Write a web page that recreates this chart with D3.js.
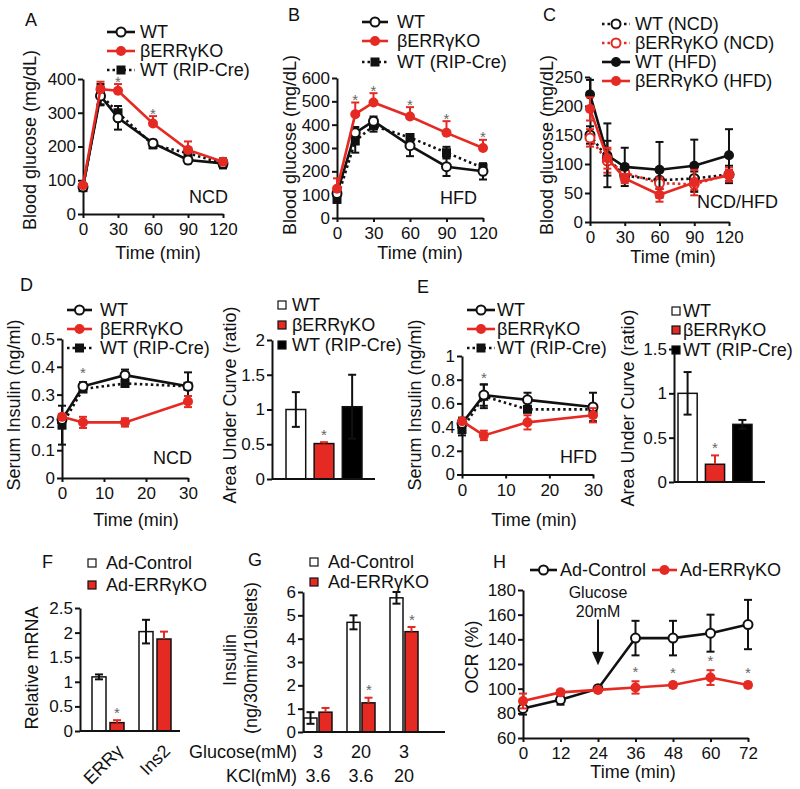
<!DOCTYPE html>
<html><head><meta charset="utf-8">
<script src="https://cdn.jsdelivr.net/npm/d3@7"></script>
<style>body{margin:0;background:#fff} svg{display:block}</style>
</head><body><svg id="c" width="800" height="789"></svg>
<script>
// ---------- DATA ----------
const timeGTT = [0, 15, 30, 60, 90, 120];
const gttTicks = [0, 30, 60, 90, 120];
// Panel A (NCD GTT)
const aWT = [80, 350, 285, 210, 160, 150];
const aWTErr = [8, 28, 35, 10, 10, 15];
const aCre = [78, 355, 300, 205, 180, 150];
const aCreErr = [8, 30, 20, 10, 12, 12];
const aKO = [85, 370, 365, 268, 190, 155];
const aKOErr = [5, 22, 20, 22, 25, 8];
const aStars = [30, 60];
// Panel B (HFD GTT)
const bWT = [105, 365, 415, 310, 220, 200];
const bWTErr = [10, 25, 20, 45, 40, 35];
const bCre = [80, 330, 395, 345, 280, 215];
const bCreErr = [15, 50, 25, 15, 25, 15];
const bKO = [125, 445, 495, 435, 365, 300];
const bKOErr = [45, 50, 40, 40, 50, 35];
const bStars = [15, 30, 60, 90, 120];
// Panel C (ITT)
const cWTncd = [150, 110, 80, 72, 75, 82];
const cWTncdErr = [15, 30, 10, 15, 12, 15];
const cKOncd = [145, 105, 85, 67, 65, 82];
const cKOncdErr = [15, 20, 8, 10, 10, 12];
const cWThfd = [220, 115, 95, 90, 97, 115];
const cWThfdErr = [25, 55, 33, 48, 45, 45];
const cKOhfd = [195, 110, 75, 47, 68, 80];
const cKOhfdErr = [20, 18, 8, 12, 22, 10];
// Panel D / E (serum insulin)
const timeIns = [0, 5, 15, 30];
const insTicks = [0, 10, 20, 30];
const dWT = [0.21, 0.33, 0.37, 0.33];
const dWTErr = [0.02, 0.015, 0.02, 0.05];
const dCre = [0.19, 0.32, 0.34, 0.33];
const dCreErr = [0.07, 0.01, 0.01, 0.01];
const dKO = [0.22, 0.20, 0.20, 0.275];
const dKOErr = [0.01, 0.02, 0.015, 0.02];
const dStars = [5];
const eWT = [0.43, 0.67, 0.63, 0.57];
const eWTErr = [0.05, 0.09, 0.06, 0.12];
const eCre = [0.38, 0.66, 0.55, 0.55];
const eCreErr = [0.05, 0.10, 0.02, 0.02];
const eKO = [0.45, 0.33, 0.44, 0.50];
const eKOErr = [0.02, 0.04, 0.06, 0.06];
const eStars = [5];
// AUC bars
const aucGroups = ["WT", "βERRγKO", "WT (RIP-Cre)"];
const dAUC = [1.0, 0.51, 1.04];
const dAUCErr = [0.25, 0.02, 0.46];
const eAUC = [1.0, 0.2, 0.65];
const eAUCErr = [0.24, 0.1, 0.05];
// Panel F
const genes = ["ERRγ", "Ins2"];
const fCtl = [1.1, 2.02];
const fCtlErr = [0.05, 0.24];
const fKO = [0.17, 1.87];
const fKOErr = [0.05, 0.15];
const fStars = ["ERRγ"];
// Panel G
const gGlucose = ["3", "20", "3"];
const gKCl = ["3.6", "3.6", "20"];
const gCtl = [0.6, 4.7, 5.75];
const gCtlErr = [0.25, 0.3, 0.25];
const gKO = [0.85, 1.25, 4.3];
const gKOErr = [0.18, 0.22, 0.2];
const gStars = [1, 2];
// Panel H
const timeOCR = [0, 12, 24, 36, 48, 60, 72];
const hCtl = [84, 91, 100, 141, 141, 145, 152];
const hCtlErr = [5, 4, 2, 14, 14, 15, 20];
const hKO = [90, 97, 99, 101, 103, 109, 103];
const hKOErr = [6, 2, 2, 5, 2, 6, 2];
const hStars = [36, 48, 60, 72];

// ---------- DRAWING ----------
const FONT = '"Liberation Sans", Arial, Helvetica, sans-serif';
const FS = 18;      // labels / legends
const TFS = 17;     // tick labels
const RED = "#e42a22";
const svg = d3.select("#c").attr("font-family", FONT);

function txt(x, y, s, opt = {}) {
  const t = svg.append("text").attr("x", x).attr("y", y).text(s)
    .attr("font-size", opt.size || FS).attr("fill", opt.fill || "#111")
    .attr("text-anchor", opt.anchor || "start")
    .attr("dominant-baseline", opt.baseline || "central");
  if (opt.rotate) t.attr("transform", `rotate(${opt.rotate},${x},${y})`);
  return t;
}
function star(x, y) { txt(x, y, "*", { size: 15, fill: "#666", anchor: "middle" }); }

function styleAxis(g) {
  g.attr("font-size", TFS).attr("font-family", FONT);
  g.selectAll("path,line").attr("stroke", "#111").attr("stroke-width", 2);
  g.selectAll("text").attr("fill", "#111");
}

function yAxis(y, x0, ticks, fmt) {
  const g = svg.append("g").attr("transform", `translate(${x0},0)`)
    .call(d3.axisLeft(y).tickValues(ticks).tickFormat(fmt || d3.format("")).tickSize(5).tickSizeOuter(0).tickPadding(2));
  styleAxis(g);
}
function xAxis(x, y0, ticks) {
  const g = svg.append("g").attr("transform", `translate(0,${y0})`)
    .call(d3.axisBottom(x).tickValues(ticks).tickSize(4).tickSizeOuter(0).tickPadding(5));
  styleAxis(g);
}
function baseLine(x0, x1, y0) {
  svg.append("line").attr("x1", x0).attr("x2", x1).attr("y1", y0).attr("y2", y0)
    .attr("stroke", "#111").attr("stroke-width", 2);
}

function errBar(x, y, v, e, color, dir = "both", cap = 8) {
  const top = dir === "down" ? y(v) : y(v + e);
  const bot = dir === "up" ? y(v) : y(v - e);
  svg.append("line").attr("x1", x).attr("x2", x).attr("y1", top).attr("y2", bot)
    .attr("stroke", color).attr("stroke-width", 2);
  if (dir !== "down") svg.append("line").attr("x1", x - cap / 2).attr("x2", x + cap / 2).attr("y1", top).attr("y2", top).attr("stroke", color).attr("stroke-width", 2);
  if (dir !== "up") svg.append("line").attr("x1", x - cap / 2).attr("x2", x + cap / 2).attr("y1", bot).attr("y2", bot).attr("stroke", color).attr("stroke-width", 2);
}

function marker(cx, cy, color, type) {
  if (type === "square") {
    svg.append("rect").attr("x", cx - 4.5).attr("y", cy - 4.5).attr("width", 9).attr("height", 9).attr("fill", color);
  } else if (type === "open") {
    svg.append("circle").attr("cx", cx).attr("cy", cy).attr("r", 4.5).attr("fill", "#fff").attr("stroke", color).attr("stroke-width", 2);
  } else {
    svg.append("circle").attr("cx", cx).attr("cy", cy).attr("r", 5).attr("fill", color);
  }
}

function drawSeries(x, y, xs, s) {
  const line = d3.line().x((d, i) => x(xs[i])).y(d => y(d));
  svg.append("path").datum(s.values).attr("d", line).attr("fill", "none")
    .attr("stroke", s.color).attr("stroke-width", 2.6)
    .attr("stroke-dasharray", s.dash ? "2.5,3" : null);
  s.values.forEach((v, i) => errBar(x(xs[i]), y, v, s.errs[i], s.color, s.dir || "both"));
  s.values.forEach((v, i) => marker(x(xs[i]), y(v), s.color, s.marker));
}

function legendLine(x0, x1, yc, s, label, tx) {
  svg.append("line").attr("x1", x0).attr("x2", x1).attr("y1", yc).attr("y2", yc)
    .attr("stroke", s.color).attr("stroke-width", 2.6).attr("stroke-dasharray", s.dash ? "2.5,3" : null);
  marker((x0 + x1) / 2, yc, s.color, s.marker);
  txt(tx, yc, label);
}
function legendBox(x0, yc, fill, label, tx) {
  svg.append("rect").attr("x", x0).attr("y", yc - 4).attr("width", 8).attr("height", 8)
    .attr("fill", fill).attr("stroke", "#111").attr("stroke-width", 1.2);
  txt(tx, yc, label);
}

function linePanel(cfg) {
  const x = d3.scaleLinear().domain(cfg.xDomain).range(cfg.xRange);
  const y = d3.scaleLinear().domain(cfg.yDomain).range(cfg.yRange);
  yAxis(y, cfg.xRange[0], cfg.yTicks, cfg.yFmt);
  xAxis(x, cfg.yRange[0], cfg.xTicks);
  cfg.series.forEach(s => drawSeries(x, y, cfg.xs, s));
  (cfg.stars || []).forEach(t => {
    const s = cfg.starSeries; const i = cfg.xs.indexOf(t);
    star(x(t), y(s.values[i] + s.errs[i]) - (cfg.starOff || 8));
  });
  return { x, y };
}

// ----- Panel A -----
const sA = [
  { values: aCre, errs: aCreErr, color: "#111", dash: true, marker: "square" },
  { values: aWT, errs: aWTErr, color: "#111", marker: "open" },
  { values: aKO, errs: aKOErr, color: RED, marker: "filled", dir: "up" }
];
linePanel({ xDomain: [0, 120], xRange: [83, 223], yDomain: [0, 400], yRange: [214, 79],
  yTicks: [0, 100, 200, 300, 400], xTicks: gttTicks, xs: timeGTT, series: sA,
  stars: aStars, starSeries: sA[2], starOff: 3 });
txt(25, 20, "A");
legendLine(107, 135, 32, sA[1], "WT", 140);
legendLine(107, 135, 51, sA[2], "βERRγKO", 140);
legendLine(107, 135, 70, sA[0], "WT (RIP-Cre)", 140);
txt(228, 197, "NCD", { anchor: "end" });
txt(30, 140, "Blood glucose (mg/dL)", { anchor: "middle", rotate: -90 });
txt(158, 253, "Time (min)", { anchor: "middle" });

// ----- Panel B -----
const sB = [
  { values: bCre, errs: bCreErr, color: "#111", dash: true, marker: "square" },
  { values: bWT, errs: bWTErr, color: "#111", marker: "open" },
  { values: bKO, errs: bKOErr, color: RED, marker: "filled", dir: "up" }
];
linePanel({ xDomain: [0, 120], xRange: [337, 483], yDomain: [0, 600], yRange: [218, 78],
  yTicks: [0, 100, 200, 300, 400, 500, 600], xTicks: gttTicks, xs: timeGTT, series: sB,
  stars: bStars, starSeries: sB[2], starOff: 3 });
txt(288, 15, "B");
legendLine(362, 388, 22, sB[1], "WT", 397);
legendLine(362, 388, 41, sB[2], "βERRγKO", 397);
legendLine(362, 388, 62, sB[0], "WT (RIP-Cre)", 397);
txt(477, 198, "HFD", { anchor: "end" });
txt(290, 145, "Blood glucose (mg/dL)", { anchor: "middle", rotate: -90 });
txt(420, 253, "Time (min)", { anchor: "middle" });

// ----- Panel C -----
const sC = [
  { values: cWTncd, errs: cWTncdErr, color: "#111", dash: true, marker: "open" },
  { values: cKOncd, errs: cKOncdErr, color: RED, dash: true, marker: "open" },
  { values: cWThfd, errs: cWThfdErr, color: "#111", marker: "filled" },
  { values: cKOhfd, errs: cKOhfdErr, color: RED, marker: "filled" }
];
linePanel({ xDomain: [0, 120], xRange: [590, 729], yDomain: [0, 250], yRange: [222, 77],
  yTicks: [0, 50, 100, 150, 200, 250], xTicks: gttTicks, xs: timeGTT, series: sC });
txt(543, 15, "C");
legendLine(602, 630, 24, sC[0], "WT (NCD)", 635);
legendLine(602, 630, 43, sC[1], "βERRγKO (NCD)", 635);
legendLine(602, 630, 62, sC[2], "WT (HFD)", 635);
legendLine(602, 630, 81, sC[3], "βERRγKO (HFD)", 635);
txt(778, 202, "NCD/HFD", { anchor: "end" });
txt(547, 145, "Blood glucose (mg/dL)", { anchor: "middle", rotate: -90 });
txt(673, 257, "Time (min)", { anchor: "middle" });

// ----- Panel D (line) -----
const sD = [
  { values: dCre, errs: dCreErr, color: "#111", dash: true, marker: "square" },
  { values: dWT, errs: dWTErr, color: "#111", marker: "open" },
  { values: dKO, errs: dKOErr, color: RED, marker: "filled" }
];
linePanel({ xDomain: [0, 30], xRange: [62, 188], yDomain: [0, 0.5], yRange: [478, 339],
  yTicks: [0, 0.1, 0.2, 0.3, 0.4, 0.5], xTicks: insTicks, xs: timeIns, series: sD,
  stars: dStars, starSeries: sD[1], starOff: 10 });
txt(20, 285, "D");
legendLine(67, 92, 310, sD[1], "WT", 100);
legendLine(67, 92, 329, sD[2], "βERRγKO", 100);
legendLine(67, 92, 348, sD[0], "WT (RIP-Cre)", 100);
txt(192, 458, "NCD", { anchor: "end" });
txt(14, 405, "Serum Insulin (ng/ml)", { anchor: "middle", rotate: -90 });
txt(136, 520, "Time (min)", { anchor: "middle" });

// ----- Panel E (line) -----
const sE = [
  { values: eCre, errs: eCreErr, color: "#111", dash: true, marker: "square" },
  { values: eWT, errs: eWTErr, color: "#111", marker: "open" },
  { values: eKO, errs: eKOErr, color: RED, marker: "filled" }
];
linePanel({ xDomain: [0, 30], xRange: [462, 593], yDomain: [0, 1], yRange: [474.5, 356],
  yTicks: [0, 0.2, 0.4, 0.6, 0.8, 1], xTicks: insTicks, xs: timeIns, series: sE,
  stars: eStars, starSeries: sE[1], starOff: 7 });
txt(417, 287, "E");
legendLine(467, 495, 310, sE[1], "WT", 497);
legendLine(467, 495, 329, sE[2], "βERRγKO", 497);
legendLine(467, 495, 348, sE[0], "WT (RIP-Cre)", 497);
txt(597, 457, "HFD", { anchor: "end" });
txt(415, 405, "Serum Insulin (ng/ml)", { anchor: "middle", rotate: -90 });
txt(534, 520, "Time (min)", { anchor: "middle" });

// ----- AUC bar panels -----
const aucFill = ["#fff", RED, "#000"];
function aucPanel(vals, errs, xr, band, yr, ymax, yTicks) {
  const y = d3.scaleLinear().domain([0, ymax]).range(yr);
  const x = d3.scaleBand().domain(aucGroups).range(band).paddingInner(0.3);
  yAxis(y, xr[0], yTicks);
  aucGroups.forEach((gname, i) => {
    svg.append("rect").attr("x", x(gname)).attr("y", y(vals[i])).attr("width", x.bandwidth())
      .attr("height", y(0) - y(vals[i])).attr("fill", aucFill[i]).attr("stroke", "#111").attr("stroke-width", 1.5);
    errBar(x(gname) + x.bandwidth() / 2, y, vals[i], errs[i], i === 1 ? RED : "#111", i === 1 ? "up" : "both");
  });
  baseLine(xr[0], xr[1], yr[0]);
  star(x(aucGroups[1]) + x.bandwidth() / 2, y(vals[1] + errs[1]) - 8);
}
aucPanel(dAUC, dAUCErr, [272, 375], [286, 362], [479, 340], 2, [0, 0.5, 1, 1.5, 2]);
legendBox(278, 305, "#fff", "WT", 292);
legendBox(278, 325, RED, "βERRγKO", 292);
legendBox(278, 345, "#000", "WT (RIP-Cre)", 292);
txt(230, 405, "Area Under Curve (ratio)", { anchor: "middle", rotate: -90 });

aucPanel(eAUC, eAUCErr, [674, 765], [678, 752], [482, 349], 1.5, [0, 0.5, 1, 1.5]);
legendBox(672, 311, "#fff", "WT", 683);
legendBox(672, 330, RED, "βERRγKO", 683);
legendBox(672, 350, "#000", "WT (RIP-Cre)", 683);
txt(628, 408, "Area Under Curve (ratio)", { anchor: "middle", rotate: -90 });

// ----- Panel F -----
(function () {
  const y = d3.scaleLinear().domain([0, 2.5]).range([731, 608]);
  const x = d3.scaleBand().domain(genes).range([84.5, 178.5]);
  yAxis(y, 80, [0, 0.5, 1, 1.5, 2, 2.5]);
  genes.forEach((gname, i) => {
    const c = x(gname) + x.bandwidth() / 2;
    svg.append("rect").attr("x", c - 16).attr("y", y(fCtl[i])).attr("width", 14).attr("height", y(0) - y(fCtl[i]))
      .attr("fill", "#fff").attr("stroke", "#111").attr("stroke-width", 1.5);
    svg.append("rect").attr("x", c + 2).attr("y", y(fKO[i])).attr("width", 14).attr("height", y(0) - y(fKO[i]))
      .attr("fill", RED).attr("stroke", "#111").attr("stroke-width", 1.5);
    errBar(c - 9, y, fCtl[i], fCtlErr[i], "#111");
    errBar(c + 9, y, fKO[i], fKOErr[i], RED, "up");
    if (fStars.includes(gname)) star(c + 9, y(fKO[i] + fKOErr[i]) - 8);
    txt(c + 12, 748, gname, { anchor: "end", rotate: -45 });
  });
  baseLine(80, 180, 731);
  txt(42, 562, "F");
  legendBox(88, 563, "#fff", "Ad-Control", 106);
  legendBox(88, 585, RED, "Ad-ERRγKO", 106);
  txt(32, 668, "Relative mRNA", { anchor: "middle", rotate: -90 });
})();

// ----- Panel G -----
(function () {
  const y = d3.scaleLinear().domain([0, 6]).range([732, 592]);
  const idx = gGlucose.map((d, i) => i);
  const x = d3.scaleBand().domain(idx).range([296.5, 425.5]);
  yAxis(y, 303, [0, 1, 2, 3, 4, 5, 6]);
  idx.forEach(i => {
    const c = x(i) + x.bandwidth() / 2;
    svg.append("rect").attr("x", c - 14).attr("y", y(gCtl[i])).attr("width", 13).attr("height", y(0) - y(gCtl[i]))
      .attr("fill", "#fff").attr("stroke", "#111").attr("stroke-width", 1.5);
    svg.append("rect").attr("x", c + 1).attr("y", y(gKO[i])).attr("width", 13).attr("height", y(0) - y(gKO[i]))
      .attr("fill", RED).attr("stroke", "#111").attr("stroke-width", 1.5);
    errBar(c - 7.5, y, gCtl[i], gCtlErr[i], "#111");
    errBar(c + 7.5, y, gKO[i], gKOErr[i], RED, "up");
    if (gStars.includes(i)) star(c + 8, y(gKO[i] + gKOErr[i]) - 8);
    txt(c, 752, gGlucose[i], { anchor: "middle" });
    txt(c, 776, gKCl[i], { anchor: "middle" });
  });
  baseLine(303, 445, 732);
  txt(297, 752, "Glucose(mM)", { anchor: "end" });
  txt(297, 776, "KCl(mM)", { anchor: "end" });
  txt(248, 560, "G");
  legendBox(310, 562, "#fff", "Ad-Control", 328);
  legendBox(310, 582, RED, "Ad-ERRγKO", 328);
  txt(230, 660, "Insulin", { anchor: "middle", rotate: -90 });
  txt(251, 658, "(ng/30min/10islets)", { anchor: "middle", rotate: -90 });
})();

// ----- Panel H -----
(function () {
  const sH = [
    { values: hCtl, errs: hCtlErr, color: "#111", marker: "open" },
    { values: hKO, errs: hKOErr, color: RED, marker: "filled" }
  ];
  const r = linePanel({ xDomain: [0, 72], xRange: [523, 748], yDomain: [60, 180], yRange: [738, 590],
    yTicks: [60, 80, 100, 120, 140, 160, 180], xTicks: timeOCR, xs: timeOCR, series: sH,
    stars: hStars, starSeries: sH[1], starOff: 10 });
  const ax = r.x(24);
  svg.append("line").attr("x1", ax).attr("x2", ax).attr("y1", r.y(156)).attr("y2", r.y(128))
    .attr("stroke", "#111").attr("stroke-width", 2);
  svg.append("path").attr("d", `M${ax - 6},${r.y(130)} L${ax + 6},${r.y(130)} L${ax},${r.y(119)} Z`).attr("fill", "#111");
  txt(ax, 592, "Glucose", { anchor: "middle", size: 16 });
  txt(ax, 611, "20mM", { anchor: "middle", size: 16 });
  txt(493, 562, "H");
  legendLine(530, 557, 570, sH[0], "Ad-Control", 560);
  legendLine(652, 677, 570, sH[1], "Ad-ERRγKO", 680);
  txt(472, 657, "OCR (%)", { anchor: "middle", rotate: -90 });
  txt(633, 772, "Time (min)", { anchor: "middle" });
})();
</script></body></html>
